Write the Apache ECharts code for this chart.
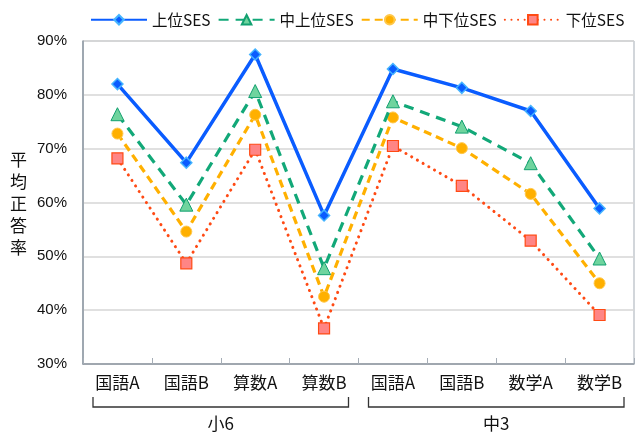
<!DOCTYPE html>
<html>
<head>
<meta charset="utf-8">
<script src="https://cdn.jsdelivr.net/npm/echarts@6/dist/echarts.min.js"></script>
<style>
  html, body { margin: 0; padding: 0; background: #fff; }
  #chart { width: 637px; height: 439px; }
</style>
</head>
<body>
<div id="chart"></div>
<script>
// Subjects tested in grade 6 (小6) and grade 9 (中3)
const categories = ['国語A', '国語B', '算数A', '算数B', '国語A', '国語B', '数学A', '数学B'];
const groups = [
  { name: '小6', from: 0, to: 3 },
  { name: '中3', from: 4, to: 7 }
];
const seriesNames = ['上位SES', '中上位SES', '中下位SES', '下位SES'];

// Average correct-answer rate (%) by SES group
const upperSES      = [82.0, 67.4, 87.5, 57.6, 84.8, 81.3, 77.0, 58.9];
const upperMidSES   = [76.4, 59.6, 80.7, 47.8, 78.8, 74.1, 67.3, 49.6];
const lowerMidSES   = [72.8, 54.6, 76.3, 42.5, 75.8, 70.1, 61.6, 45.0];
const lowerSES      = [68.2, 48.7, 69.8, 36.6, 70.5, 63.1, 52.9, 39.1];

const yTicks = { min: 30, max: 90, step: 10 };

const JP = '"Noto Sans CJK JP", "Liberation Sans", sans-serif';
const LAT = '"Liberation Sans", "Noto Sans CJK JP", sans-serif';

const chart = echarts.init(document.getElementById('chart'), null, { renderer: 'canvas' });

const option = {
  animation: false,
  backgroundColor: '#fff',
  grid: { left: 83, top: 41, right: 3, bottom: 75, show: true, borderColor: '#a5adb6', borderWidth: 1 },
  legend: {
    top: 12, left: 90, padding: 0, width: 600,
    itemWidth: 56, itemHeight: 12, itemGap: 7,
    textStyle: { fontFamily: JP, fontSize: 15.5, color: '#111' },
    data: seriesNames
  },
  xAxis: {
    type: 'category',
    data: categories,
    boundaryGap: true,
    axisLine: { lineStyle: { color: '#8e98a3', width: 1.5 } },
    axisTick: { show: true, inside: true, length: 6, lineStyle: { color: '#a5adb6' } },
    axisLabel: { fontFamily: JP, fontSize: 17, color: '#111', margin: 10, interval: 0 }
  },
  yAxis: {
    type: 'value',
    min: yTicks.min, max: yTicks.max, interval: yTicks.step,
    axisLine: { show: true, lineStyle: { color: '#8e98a3', width: 1.5 } },
    axisTick: { show: false },
    splitLine: { lineStyle: { color: '#d6d6d6', width: 1.5 } },
    axisLabel: { fontFamily: LAT, fontSize: 15, color: '#111', margin: 16, formatter: '{value}%' }
  },
  series: [
    {
      name: seriesNames[0], type: 'line', data: upperSES,
      symbol: 'diamond', symbolSize: 11,
      lineStyle: { color: '#0a5cff', width: 3.5 },
      itemStyle: { color: '#0a5cff', borderColor: '#45b4ff', borderWidth: 1.5 },
      z: 5
    },
    {
      name: seriesNames[1], type: 'line', data: upperMidSES,
      symbol: 'triangle', symbolSize: 13,
      lineStyle: { color: '#12a878', width: 3.2, type: [10, 7] },
      itemStyle: { color: '#6fd49e', borderColor: '#12a070', borderWidth: 1 },
      z: 4
    },
    {
      name: seriesNames[2], type: 'line', data: lowerMidSES,
      symbol: 'circle', symbolSize: 11,
      lineStyle: { color: '#ffb000', width: 3.2, type: [8, 5] },
      itemStyle: { color: '#ffb000', borderColor: '#ffc84a', borderWidth: 1 },
      z: 3
    },
    {
      name: seriesNames[3], type: 'line', data: lowerSES,
      symbol: 'rect', symbolSize: 11,
      lineStyle: { color: '#ff4a14', width: 3, type: [0.1, 6.5], cap: 'round' },
      itemStyle: { color: '#ff8585', borderColor: '#ff4a14', borderWidth: 1.2 },
      z: 2
    }
  ],
  graphic: [
    {
      type: 'text', left: 10, top: 149,
      style: {
        text: '平\n均\n正\n答\n率',
        font: '17px "Noto Sans CJK JP"', fill: '#111',
        lineHeight: 22, align: 'center'
      }
    }
  ]
};

chart.setOption(option);

// Group brackets under the category labels, placed from axis positions
const half = (chart.convertToPixel({ xAxisIndex: 0 }, 1) - chart.convertToPixel({ xAxisIndex: 0 }, 0)) / 2;
const bracketTop = 397, bracketBottom = 407;
const extra = [];
groups.forEach(g => {
  const x0 = chart.convertToPixel({ xAxisIndex: 0 }, g.from) - half + 10;
  const x1 = chart.convertToPixel({ xAxisIndex: 0 }, g.to) + half - 10;
  extra.push({
    type: 'polyline', silent: true,
    shape: { points: [[x0, bracketTop], [x0, bracketBottom], [x1, bracketBottom], [x1, bracketTop]] },
    style: { stroke: '#333', lineWidth: 1.3, fill: null }
  });
  extra.push({
    type: 'text', silent: true,
    x: (x0 + x1) / 2, y: 424,
    style: { text: g.name, font: '17px "Noto Sans CJK JP"', fill: '#111', align: 'center', verticalAlign: 'middle' }
  });
});
chart.setOption({ graphic: option.graphic.concat(extra) });
</script>
</body>
</html>
